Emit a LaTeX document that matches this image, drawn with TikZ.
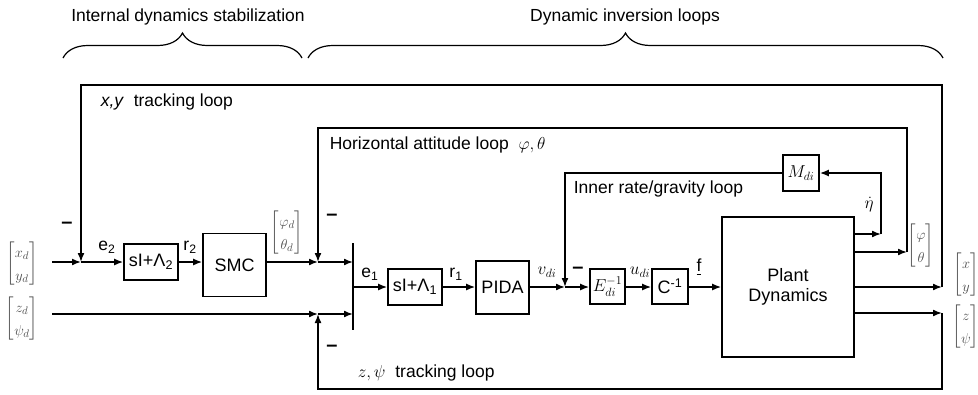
\documentclass[tikz,border=0pt]{standalone}
\usepackage{amsmath}
\usepackage{fontspec}
\setmainfont{Liberation Sans}
\usetikzlibrary{arrows.meta,decorations.pathreplacing}
\newcommand{\vecb}[2]{{\setlength\arraycolsep{2pt}\renewcommand{\arraystretch}{1.35}$\begin{bmatrix} #1\\ #2\end{bmatrix}$}}
\begin{document}
\begin{tikzpicture}[x=1pt,y=-1pt,line width=1.6pt,
  >={Latex[length=9pt,width=7pt]},
  blk/.style={draw,line width=1.6pt,inner sep=0pt,font=\fontsize{18}{20}\selectfont},
  lbl/.style={font=\fontsize{17.5}{20}\selectfont,inner sep=0pt,anchor=west},
  sig/.style={font=\fontsize{17.5}{20}\selectfont,inner sep=0pt},
  vec/.style={font=\fontsize{15}{17}\selectfont,inner sep=0pt,text=black!70},
  minus/.style={font=\fontsize{20}{20}\selectfont\bfseries,inner sep=0pt},
  brc/.style={decorate,decoration={brace,amplitude=25pt},line width=1.2pt}]
\useasboundingbox (0,0) rectangle (978,394);

% titles and braces
\node[sig] (t1) at (188,17) {Internal dynamics stabilization};
\node[sig] (t2) at (625,17) {Dynamic inversion loops};
\coordinate (b1a) at (63,58); \coordinate (b1b) at (302,58);
\coordinate (b2a) at (308,58); \coordinate (b2b) at (943,58);
\draw[brc] (b1a) -- (b1b);
\draw[brc] (b2a) -- (b2b);

% blocks
\node[blk,minimum width=54pt,minimum height=36pt] (bb2) at (151,262) {sI+Λ\textsubscript{2}};
\node[blk,minimum width=63pt,minimum height=63pt] (smc) at (234.5,265) {SMC};
\node[blk,minimum width=54pt,minimum height=36pt] (bb1) at (415,287) {sI+Λ\textsubscript{1}};
\node[blk,minimum width=53pt,minimum height=53pt] (pida) at (502.5,287.5) {PIDA};
\node[blk,minimum width=35pt,minimum height=35pt] (E) at (607.5,286.5) {$E_{di}^{-1}$};
\node[blk,minimum width=36pt,minimum height=35pt] (C) at (670,286.5) {C\textsuperscript{-1}};
\node[blk,minimum width=132pt,minimum height=140pt,align=center] (plant) at (788,287) {Plant\\Dynamics};
\node[blk,minimum width=36pt,minimum height=36pt] (M) at (801,173) {$M_{di}$};

% coordinates
\coordinate (in1) at (52,262);
\coordinate (jxy) at (81,262);
\coordinate (j2) at (318,262);
\coordinate (in2) at (52,314);
\coordinate (j3) at (318,314);
\coordinate (bartop) at (353,243);
\coordinate (barbot) at (353,330);
\coordinate (jin) at (565,287);
\coordinate (oeta) at (881,234);
\coordinate (oang) at (907,252);
\coordinate (oxy) at (942,287);
\coordinate (ozp) at (942,313);
\coordinate (hatop) at (907,128);
\coordinate (xytop) at (942,85);
\coordinate (zpbot) at (942,389);

% forward path
\draw[->] (in1) -- (jxy);
\draw[->] (jxy) -- (jxy -| bb2.west);
\draw[->] (bb2.east |- jxy) -- (jxy -| smc.west);
\draw[->] (smc.east |- jxy) -- (j2);
\draw[->] (j2) -- (j2 -| bartop);
\draw[->] (in2) -- (j3);
\draw[->] (j3) -- (j3 -| bartop);
\draw (bartop) -- (barbot);
\draw[->] (bartop |- jin) -- (bb1.west |- jin);
\draw[->] (bb1.east |- jin) -- (pida.west |- jin);
\draw[->] (pida.east |- jin) -- (jin);
\draw[->] (jin) -- (E.west |- jin);
\draw[->] (E.east |- jin) -- (C.west |- jin);
\draw[->] (C.east |- jin) -- (plant.west |- jin);

% outputs and loops
\draw[->] (plant.east |- oeta) -- (oeta);
\draw[->] (oeta) |- (M.east);
\draw[->] (M.west) -| (jin);
\draw[->] (plant.east |- oang) -- (oang);
\draw[->] (oang) -- (hatop) -| (j2);
\draw[->] (plant.east |- oxy) -- (oxy);
\draw[->] (oxy) -- (xytop) -| (jxy);
\draw[->] (plant.east |- ozp) -- (ozp);
\draw[->] (ozp) -- (zpbot) -| (j3);

% loop labels
\node[lbl] (lxy) at (100,102) {\textit{x,y}\ \ tracking loop};
\node[lbl] (lha) at (329,145) {Horizontal attitude loop \ $\varphi,\theta$};
\node[lbl] (lir) at (573,189) {Inner rate/gravity loop};
\node[lbl] (lzp) at (357,373) {$z,\psi$\ \ tracking loop};

% minus signs
\node[minus] (m1) at (67,225) {--};
\node[minus] (m2) at (332,217) {--};
\node[minus] (m3) at (332,348) {--};
\node[minus] (m4) at (578,270) {--};

% signal labels
\node[sig] (e2) at (107,247) {e\textsubscript{2}};
\node[sig] (r2) at (190,247) {r\textsubscript{2}};
\node[sig] (e1) at (370,274) {e\textsubscript{1}};
\node[sig] (r1) at (456,274) {r\textsubscript{1}};
\node[sig] (vdi) at (547,272) {$v_{di}$};
\node[sig] (udi) at (640,272) {$u_{di}$};
\node[sig] (f) at (699,267) {\underline{f}};
\node[sig] (eta) at (869,205) {$\dot\eta$};

% vectors
\node[vec] (vxd) at (22,264) {\vecb{x_d}{y_d}};
\node[vec] (vzd) at (22,319) {\vecb{z_d}{\psi_d}};
\node[vec] (vphd) at (287,233) {\vecb{\varphi_d}{\theta_d}};
\node[vec] (vph) at (921,246) {\vecb{\varphi}{\theta}};
\node[vec] (vxy) at (966,275) {\vecb{x}{y}};
\node[vec] (vzp) at (966,327) {\vecb{z}{\psi}};
\end{tikzpicture}
\end{document}
